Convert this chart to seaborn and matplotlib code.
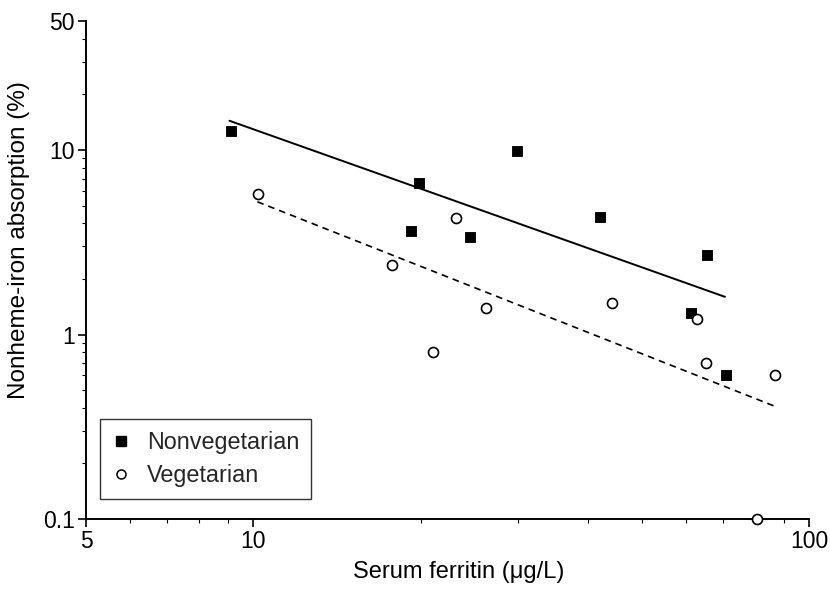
import numpy as np
import pandas as pd
import seaborn as sns
import matplotlib.pyplot as plt
import matplotlib.ticker as ticker
from matplotlib.lines import Line2D

# --- data ---
nonveg_ferritin = [9.1, 19.85, 19.25, 24.5, 29.8, 42.1, 65.5, 61.3, 70.8]
nonveg_absorption = [12.7, 6.6, 3.65, 3.39, 9.9, 4.33, 2.7, 1.31, 0.60]

veg_ferritin = [10.2, 23.2, 17.8, 26.2, 21.1, 44.2, 63.0, 65.2, 86.8, 80.5]
veg_absorption = [5.79, 4.26, 2.38, 1.40, 0.80, 1.49, 1.22, 0.70, 0.60, 0.1]

# regression lines (end points as drawn in the figure)
nonveg_fit_x = [9.06, 70.6]
nonveg_fit_y = [14.4, 1.60]
veg_fit_x = [10.17, 86.5]
veg_fit_y = [5.24, 0.41]

groups = ["Nonvegetarian", "Vegetarian"]

df = pd.DataFrame({
    "ferritin": nonveg_ferritin + veg_ferritin,
    "absorption": nonveg_absorption + veg_absorption,
    "group": [groups[0]] * len(nonveg_ferritin) + [groups[1]] * len(veg_ferritin),
})
fits = pd.DataFrame({
    "ferritin": nonveg_fit_x + veg_fit_x,
    "absorption": nonveg_fit_y + veg_fit_y,
    "group": [groups[0]] * 2 + [groups[1]] * 2,
})

sns.set_theme(style="ticks")
plt.rcParams["font.family"] = ["Liberation Sans", "DejaVu Sans"]

fig = plt.figure(figsize=(8.3, 5.9), dpi=100)
ax = fig.add_axes([0.1036, 0.1203, 0.8711, 0.8441])

# fit lines
sns.lineplot(data=fits[fits.group == groups[0]], x="ferritin", y="absorption",
             color="black", linewidth=1.4, ax=ax, legend=False)
sns.lineplot(data=fits[fits.group == groups[1]], x="ferritin", y="absorption",
             color="black", linewidth=1.2, linestyle=(0, (4, 3)), ax=ax, legend=False)

# points
sns.scatterplot(data=df[df.group == groups[0]], x="ferritin", y="absorption",
                marker="s", s=62, color="black", edgecolor="black", ax=ax,
                legend=False, zorder=3)
sns.scatterplot(data=df[df.group == groups[1]], x="ferritin", y="absorption",
                marker="o", s=52, facecolor="white", edgecolor="black",
                linewidth=1.2, ax=ax, legend=False, zorder=3, clip_on=False)

ax.set_xscale("log")
ax.set_yscale("log")
ax.set_xlim(5, 100)
ax.set_ylim(0.1, 50)

ax.xaxis.set_major_locator(ticker.FixedLocator([5, 10, 100]))
ax.xaxis.set_major_formatter(ticker.FixedFormatter(["5", "10", "100"]))
ax.xaxis.set_minor_locator(ticker.FixedLocator([6, 7, 8, 9, 20, 30, 40, 50, 60, 70, 80, 90]))
ax.xaxis.set_minor_formatter(ticker.NullFormatter())
ax.yaxis.set_major_locator(ticker.FixedLocator([0.1, 1, 10, 50]))
ax.yaxis.set_major_formatter(ticker.FixedFormatter(["0.1", "1", "10", "50"]))
ax.yaxis.set_minor_locator(ticker.FixedLocator(
    [0.2, 0.3, 0.4, 0.5, 0.6, 0.7, 0.8, 0.9, 2, 3, 4, 5, 6, 7, 8, 9, 20, 30, 40]))
ax.yaxis.set_minor_formatter(ticker.NullFormatter())

ax.tick_params(which="major", length=6, width=1.2, labelsize=16.5, pad=2,
               color="black", labelcolor="black")
ax.tick_params(which="minor", length=3, width=0.8, color="black")

ax.set_xlabel("Serum ferritin (\u03bcg/L)", fontsize=17, color="black")
ax.set_ylabel("Nonheme-iron absorption (%)", fontsize=17.5, color="black")
ax.xaxis.set_label_coords(0.515, -0.085)
ax.yaxis.set_label_coords(-0.077, 0.56)

sns.despine(ax=ax)
for sp in ["left", "bottom"]:
    ax.spines[sp].set_linewidth(1.4)
    ax.spines[sp].set_color("black")

handles = [
    Line2D([], [], marker="s", linestyle="none", color="black", markersize=7),
    Line2D([], [], marker="o", linestyle="none", markerfacecolor="white",
           markeredgecolor="black", markeredgewidth=1.1, markersize=6.5),
]
leg = ax.legend(handles, groups, loc="lower left", bbox_to_anchor=(0.02, 0.04),
                fontsize=16.8, frameon=True, fancybox=False, edgecolor="black",
                handlelength=0.8, handletextpad=0.7, borderpad=0.5,
                labelspacing=0.45, borderaxespad=0)
leg.get_frame().set_linewidth(1.0)

fig.savefig("out.png", dpi=100)
